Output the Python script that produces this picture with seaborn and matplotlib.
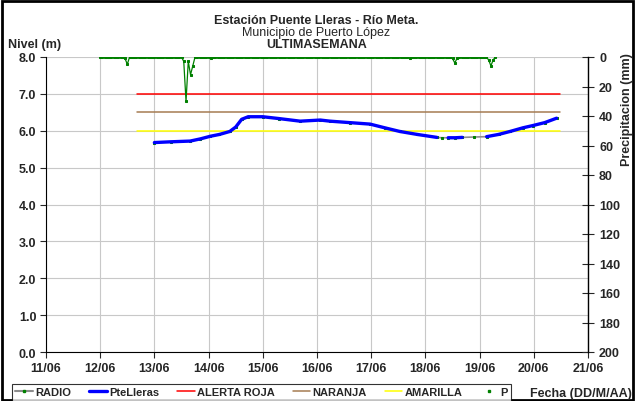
import numpy as np
import pandas as pd
import seaborn as sns
import matplotlib.pyplot as plt
from matplotlib.lines import Line2D
from matplotlib.patches import Rectangle

# nivel PteLleras (dia de junio, m)
nivel_dia = [13.00, 13.30, 13.66, 13.85, 14.03, 14.20, 14.39, 14.50, 14.61, 14.73, 15.00,
             15.30, 15.69, 16.06, 16.24, 16.61, 16.98, 17.25, 17.53, 17.85, 18.21, 18.30,
             18.42, 18.55, 18.68, 18.90, 19.13, 19.35, 19.56, 19.80, 19.98, 20.20, 20.42]
nivel_m = [5.68, 5.70, 5.72, 5.78, 5.85, 5.90, 5.98, 6.10, 6.31, 6.38, 6.38,
           6.33, 6.26, 6.29, 6.26, 6.22, 6.18, 6.08, 5.98, 5.90, 5.82, 5.81,
           5.81, 5.81, 5.82, 5.83, 5.84, 5.90, 5.98, 6.08, 6.14, 6.22, 6.34]
# tramos donde la serie azul tiene datos (el resto solo RADIO)
nivel_tramo = [0] * 21 + [-1] + [1, 1, 1] + [-1] + [2] * 7

# umbrales
alerta_ini, alerta_fin = 12.68, 20.48
roja, naranja, amarilla = 7.0, 6.5, 6.0

# precipitacion horaria desde 12/06 00:00, horas con lluvia
lluvia_hora = [11, 12, 37, 38, 39, 40, 41, 49, 137, 156, 157, 158, 172, 173, 174]
lluvia_mm = [1, 5, 3, 30, 3, 12, 6, 1, 1, 1, 4, 1, 2, 6, 2]
n_horas = 176

dias = list(range(11, 22))
dia_labels = ['%02d/06' % d for d in dias]

sns.set_style("white")
plt.rcParams['font.family'] = ['Liberation Sans', 'DejaVu Sans']
plt.rcParams['font.weight'] = 'bold'

fig = plt.figure(figsize=(6.35, 4.02), dpi=100)
ax = fig.add_axes([46 / 635, 1 - 353 / 402, (588 - 46) / 635, (353 - 58) / 402])

df = pd.DataFrame({'dia': nivel_dia, 'nivel': nivel_m, 'tramo': nivel_tramo})

# RADIO (gris, debajo)
sns.lineplot(data=df, x='dia', y='nivel', ax=ax, color='#8C8C8C', lw=1.2,
             marker='s', markersize=2, markerfacecolor='#008000', markeredgecolor='#008000', zorder=3)
# PteLleras
azul = df[df['tramo'] >= 0]
sns.lineplot(data=azul, x='dia', y='nivel', units='tramo', estimator=None, ax=ax,
             color='#0000FF', lw=2.4, zorder=4)

for val, col in [(roja, '#FF0000'), (naranja, '#A67C52'), (amarilla, '#FFFF00')]:
    ax.plot([alerta_ini, alerta_fin], [val, val], color=col, lw=1.1, zorder=2)

ax.set_xlim(11, 21)
ax.set_ylim(0, 8)
ax.set_xticks(dias)
ax.set_xticklabels(dia_labels)
ax.set_yticks(np.arange(0, 8.1, 1))
ax.set_yticklabels(['%.1f' % v for v in np.arange(0, 8.1, 1)])
ax.grid(True, color='#C8C8C8', lw=0.8)
ax.set_xlabel('')
ax.set_ylabel('')
ax.tick_params(labelsize=9, length=4, direction='out', left=True, bottom=True, pad=3)
for s in ['left', 'bottom']:
    ax.spines[s].set_color('black')
    ax.spines[s].set_linewidth(0.8)
ax.spines['top'].set_visible(False)
ax.spines['right'].set_visible(False)

# precipitacion, eje derecho invertido
p = np.zeros(n_horas)
p[lluvia_hora] = lluvia_mm
dfp = pd.DataFrame({'dia': 12 + np.arange(n_horas) / 24.0, 'p': p})
ax2 = ax.twinx()
sns.lineplot(data=dfp, x='dia', y='p', ax=ax2, color='#008000', lw=0.9,
             marker='s', markersize=1.8, markeredgecolor='#008000')
ax2.set_ylim(200, 0)
ax2.set_yticks(range(0, 201, 20))
ax2.set_ylabel('')
ax2.tick_params(axis='y', labelsize=9, length=8, direction='inout', right=True, pad=4)
ax2.spines['right'].set_color('black')
ax2.spines['right'].set_linewidth(1.0)
for s in ['top', 'left', 'bottom']:
    ax2.spines[s].set_visible(False)
ax2.grid(False)

fig.text(0.498, 1 - 21 / 402, 'Estación Puente Lleras - Río Meta.', ha='center', va='center', fontsize=9, weight='bold')
fig.text(0.498, 1 - 33 / 402, 'Municipio de Puerto López', ha='center', va='center', fontsize=9, weight='normal')
fig.text(0.498, 1 - 45 / 402, 'ULTIMASEMANA', ha='center', va='center', fontsize=9, weight='bold')
fig.text(8 / 635, 1 - 45 / 402, 'Nivel (m)', ha='left', va='center', fontsize=9, weight='bold')
fig.text(627 / 635, 1 - 110 / 402, 'Precipitacion (mm)', ha='center', va='center', rotation=90, fontsize=9, weight='bold')
fig.text(581 / 635, 1 - 394 / 402, 'Fecha (DD/M/AA)', ha='center', va='center', fontsize=9, weight='bold')

handles = [
    Line2D([], [], color='#8C8C8C', lw=1.5, marker='s', markersize=2, markerfacecolor='#008000', markeredgecolor='#008000'),
    Line2D([], [], color='#0000FF', lw=2.4),
    Line2D([], [], color='#FF0000', lw=1.1),
    Line2D([], [], color='#A67C52', lw=1.1),
    Line2D([], [], color='#FFFF00', lw=1.1),
    Line2D([], [], color='#008000', lw=0, marker='s', markersize=2),
]
labels = ['RADIO', 'PteLleras', 'ALERTA ROJA', 'NARANJA', 'AMARILLA', 'P']
leg = fig.legend(handles, labels, loc='upper left', bbox_to_anchor=(12 / 635, 1 - 385 / 402),
                 ncol=6, fontsize=8, frameon=True, fancybox=False, handlelength=1.6,
                 handletextpad=0.2, columnspacing=1.6, borderpad=0.3, borderaxespad=0)
leg.get_frame().set_edgecolor('black')
leg.get_frame().set_linewidth(0.8)

fig.patches.append(Rectangle((0.003, 0.003), 0.994, 0.992, transform=fig.transFigure,
                             fill=False, edgecolor='black', lw=2))

fig.savefig('out.png', dpi=100)
